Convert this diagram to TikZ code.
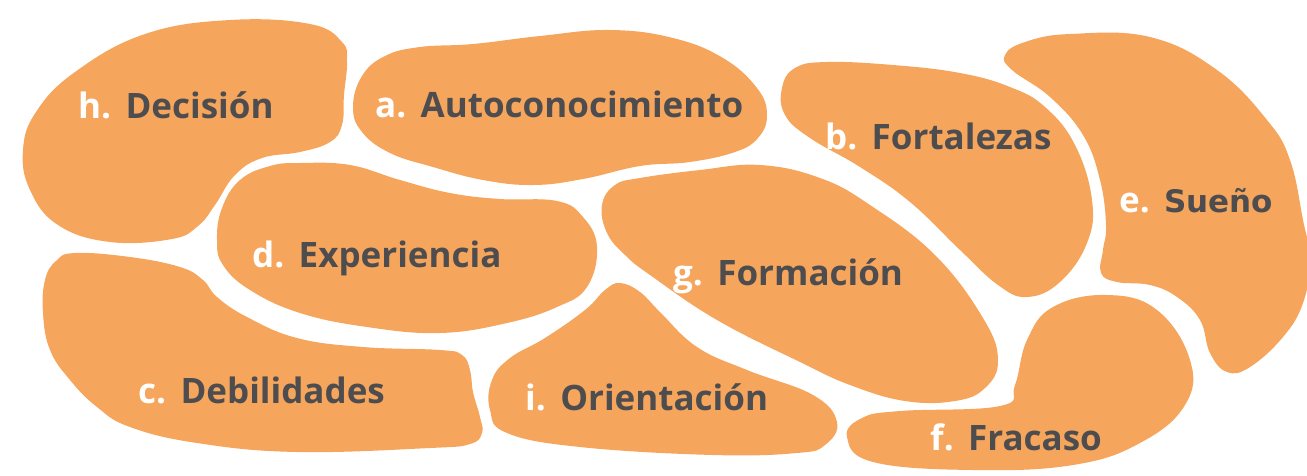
\documentclass[tikz,border=0pt]{standalone}
\usepackage{fontspec}
\setmainfont{Open Sans}
\newfontfamily\dejavu{DejaVu Sans}
\definecolor{blobfill}{RGB}{246,165,92}
\definecolor{wordgray}{RGB}{77,77,79}
\tikzset{
  blob/.style={fill=blobfill},
  num/.style={text=white,font=\fontsize{35}{40}\selectfont\bfseries,inner sep=0pt,anchor=base west},
  word/.style={text=wordgray,font=\fontsize{35}{40}\selectfont\bfseries,inner sep=0pt,anchor=base west}
}
\begin{document}
\begin{tikzpicture}[x=1pt,y=-1pt]
  \useasboundingbox (0,0) rectangle (1307,475);

  % h
  \fill[blob] plot[smooth cycle,tension=0.7] coordinates {(347,62) (344,95) (342,125) (330,142) (300,152) (262,158) (235,175) (215,205) (198,226) (172,239) (110,242) (58,225) (30,190) (23,150) (36,112) (75,72) (145,34) (230,20) (310,24) (342,42)};
  % a
  \fill[blob] plot[smooth cycle,tension=0.7] coordinates {(353,107) (362,76) (385,56) (420,47) (473,44) (540,36) (610,30) (673,38) (723,58) (757,88) (767,115) (758,138) (735,152) (690,162) (640,166) (583,179) (533,185) (483,180) (433,167) (390,153) (362,132)};
  % b
  \fill[blob] plot[smooth cycle,tension=0.7] coordinates {(782,88) (795,68) (827,62) (893,65) (960,73) (1010,87) (1045,107) (1075,145) (1092,200) (1087,243) (1060,282) (1027,297) (998,285) (960,250) (910,202) (860,167) (810,138) (785,115)};
  % e
  \fill[blob] plot[smooth cycle,tension=0.7] coordinates {(1005,55) (1025,42) (1070,34) (1150,37) (1217,70) (1267,120) (1290,160) (1303,220) (1310,260) (1303,303) (1283,337) (1250,367) (1227,372) (1210,353) (1200,320) (1177,297) (1150,285) (1117,282) (1101,273) (1103,250) (1106,225) (1100,180) (1083,135) (1050,97) (1012,70)};
  % d
  \fill[blob] plot[smooth cycle,tension=0.7] coordinates {(217,240) (222,208) (240,180) (270,166) (300,163) (350,165) (400,180) (450,193) (500,199) (557,201) (583,217) (597,247) (587,287) (557,307) (507,323) (440,333) (367,327) (300,313) (250,290) (223,265)};
  % g
  \fill[blob] plot[smooth cycle,tension=0.7] coordinates {(602,205) (615,185) (640,178) (700,170) (760,165) (820,178) (870,205) (935,255) (983,318) (998,360) (985,388) (955,401) (905,401) (850,385) (800,362) (717,320) (650,275) (625,255) (607,233)};
  % c
  \fill[blob] plot[smooth cycle,tension=0.7] coordinates {(75,253) (130,257) (180,267) (203,280) (217,297) (247,317) (297,338) (363,347) (440,350) (462,355) (470,370) (473,392) (480,417) (482,433) (470,444) (430,448) (297,452) (197,443) (130,427) (97,407) (70,380) (50,350) (43,313) (45,280) (56,261)};
  % i
  \fill[blob] plot[smooth cycle,tension=0.7] coordinates {(620,283) (640,292) (660,312) (697,347) (747,370) (813,395) (837,422) (825,445) (797,453) (713,455) (580,447) (507,433) (490,410) (492,380) (510,358) (545,338) (585,310) (605,290)};
  % f
  \fill[blob] plot[smooth cycle,tension=0.7] coordinates {(847,437) (862,418) (900,411) (1000,406) (1015,385) (1027,340) (1053,307) (1107,295) (1157,310) (1190,360) (1185,405) (1140,443) (1073,465) (973,470) (873,462)};

  \node[num] (hn) at (78,118) {h.};
  \node[word] (hw) at ([xshift=14pt]hn.base east) {Decisión};
  \node[num] (an) at (375,117) {a.};
  \node[word] (aw) at ([xshift=14pt]an.base east) {Autoconocimiento};
  \node[num] (bn) at (825,149) {b.};
  \node[word] (bw) at ([xshift=14pt]bn.base east) {Fortalezas};
  \node[num] (en) at (1119,212) {e.};
  \node[word,font=\fontsize{31}{36}\selectfont\dejavu\bfseries] (ew) at ([xshift=14pt]en.base east) {Sueño};
  \node[num] (dn) at (252,267) {d.};
  \node[word] (dw) at ([xshift=14pt]dn.base east) {Experiencia};
  \node[num] (gn) at (673,285) {g.};
  \node[word] (gw) at ([xshift=14pt]gn.base east) {Formación};
  \node[num] (cn) at (138,403) {c.};
  \node[word] (cw) at ([xshift=14pt]cn.base east) {Debilidades};
  \node[num] (in) at (525,410) {i.};
  \node[word] (iw) at ([xshift=14pt]in.base east) {Orientación};
  \node[num] (fn) at (930,450) {f.};
  \node[word] (fw) at ([xshift=14pt]fn.base east) {Fracaso};
\end{tikzpicture}
\end{document}
